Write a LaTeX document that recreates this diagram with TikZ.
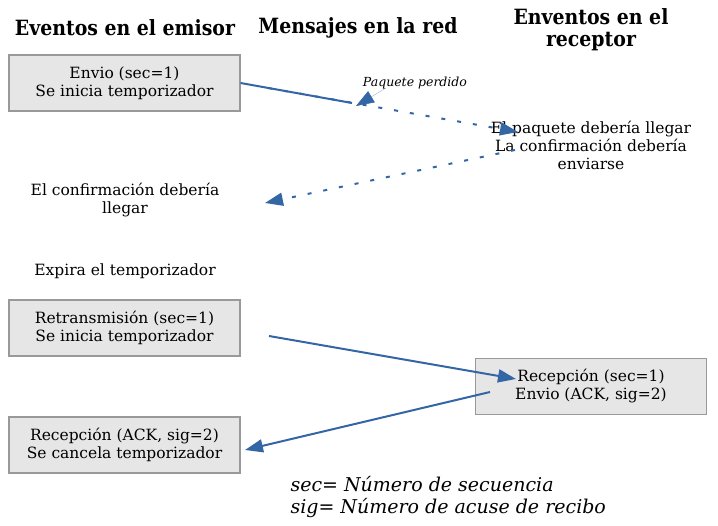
\documentclass[tikz,border=0pt]{standalone}
\usepackage{fontspec}
\setmainfont{DejaVu Serif}
\newfontfamily\headfont{DejaVu Serif Condensed}
\usetikzlibrary{arrows.meta}
\definecolor{msgblue}{HTML}{3465A4}
\definecolor{boxfill}{HTML}{E6E6E6}
\definecolor{boxline}{HTML}{999999}

\begin{document}
\begin{tikzpicture}[x=1pt, y=-1pt,
    event/.style={rectangle, draw=boxline, fill=boxfill, line width=1.2pt,
        minimum width=231pt, minimum height=56pt, align=center,
        font=\fontsize{15.5}{18}\selectfont},
    note/.style={align=center, font=\fontsize{15.5}{18}\selectfont},
    head/.style={align=center, font=\headfont\bfseries\fontsize{21}{22}\selectfont},
    msg/.style={draw=msgblue, line width=2pt},
    tip/.style={-{Triangle[length=18pt, width=13pt, color=msgblue]}}]
    \useasboundingbox (0,0) rectangle (718,526);

    % titulos
    \node[head] (emisor) at (125,28) {Eventos en el emisor};
    \node[head] (red) at (358,28) {Mensajes en la red};
    \node[head] (receptor) at (591,30) {Enventos en el\\receptor};

    % eventos
    \node[event] (envio) at (124.5,83) {Envio (sec=1)\\Se inicia temporizador};
    \node[note] (confirmacion) at (125,200) {El confirmación debería\\llegar};
    \node[note] (expira) at (125,271) {Expira el temporizador};
    \node[event] (retrans) at (124.5,328) {Retransmisión (sec=1)\\Se inicia temporizador};
    \node[event] (recack) at (124.5,445) {Recepción (ACK, sig=2)\\Se cancela temporizador};
    \node[note] (deberia) at (591,145) {El paquete debería llegar\\La confirmación debería\\enviarse};
    \node[event] (recsec) at (591,386.5) {Recepción (sec=1)\\Envio (ACK, sig=2)};
    \node[font=\itshape\fontsize{12.5}{14}\selectfont] (perdido) at (415,83) {Paquete perdido};

    % leyenda
    \node[align=left, anchor=west, font=\itshape\fontsize{19}{22}\selectfont] (leyenda) at (287,497)
        {sec= Número de secuencia\\sig= Número de acuse de recibo};

    % extremos de los mensajes
    \coordinate (lost) at (352,103);
    \coordinate (s1) at (268,88);
    \coordinate (r1) at (518,132);
    \coordinate (p1) at (386,88);
    \coordinate (p2) at (356,106);
    \coordinate (r2) at (515,150);
    \coordinate (s2) at (265,203);
    \coordinate (s3) at (269,336);
    \coordinate (r3) at (516,379);
    \coordinate (r4) at (490,392);
    \coordinate (s4) at (245,450);

    \draw[msg] (envio.east) -- (lost);
    \draw[msg, tip, dash pattern=on 4pt off 12pt] (s1) -- (r1);
    \draw[tip, line width=0.4pt, draw=msgblue!50] (p1) -- (p2);
    \draw[msg, tip, dash pattern=on 4pt off 12pt] (r2) -- (s2);
    \draw[msg, tip] (s3) -- (r3);
    \draw[msg, tip] (r4) -- (s4);
\end{tikzpicture}
\end{document}
